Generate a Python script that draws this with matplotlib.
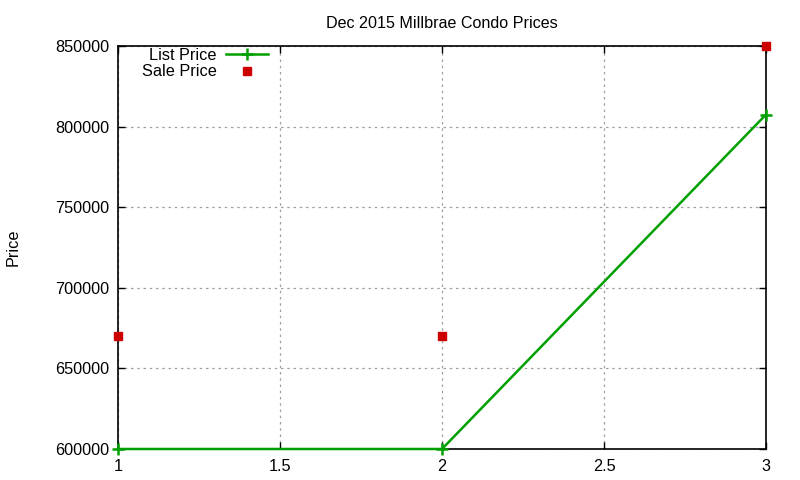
import matplotlib
matplotlib.use("Agg")
import matplotlib.pyplot as plt

plt.rcParams['font.family'] = ['Liberation Sans', 'DejaVu Sans']

# Data
x_vals = [1, 2, 3]
list_price = [600000, 600000, 807500]
sale_price = [670000, 670000, 850000]

x_ticks = [1, 1.5, 2, 2.5, 3]
y_ticks = [600000, 650000, 700000, 750000, 800000, 850000]

fig = plt.figure(figsize=(8, 4.8), dpi=100)
ax = fig.add_axes([0.1475, 0.0646, 0.81, 0.8394])

ax.plot(x_vals, list_price, color='#00a000', lw=1.8, marker='+',
        ms=9, mew=1.8, label='List Price', clip_on=False, zorder=3)
ax.plot(x_vals, sale_price, ls='none', color='#cc0000', marker='s',
        ms=6, label='Sale Price', clip_on=False, zorder=4)

ax.set_xlim(1, 3)
ax.set_ylim(600000, 850000)
ax.set_xticks(x_ticks)
ax.set_xticklabels(['1', '1.5', '2', '2.5', '3'])
ax.set_yticks(y_ticks)
ax.set_yticklabels([str(v) for v in y_ticks])
ax.tick_params(direction='in', top=True, right=True, length=5,
               labelsize=11.7, width=1)
ax.tick_params(axis='x', pad=7)
ax.tick_params(axis='y', pad=6)
ax.grid(True, color='#a0a0a0', ls=(0, (2, 3)), lw=0.9)
for s in ax.spines.values():
    s.set_linewidth(1.2)

ax.set_title('Dec 2015 Millbrae Condo Prices', fontsize=11.6, pad=13)
ax.set_ylabel('Price', fontsize=11.7, labelpad=25.5)

ax.legend(loc='upper left', frameon=False, markerfirst=False, fontsize=11.7,
          handlelength=2.6, handletextpad=0.55, labelspacing=0.1,
          borderaxespad=0.2, bbox_to_anchor=(0.022, 1.02))

fig.savefig('out.png', dpi=100)
